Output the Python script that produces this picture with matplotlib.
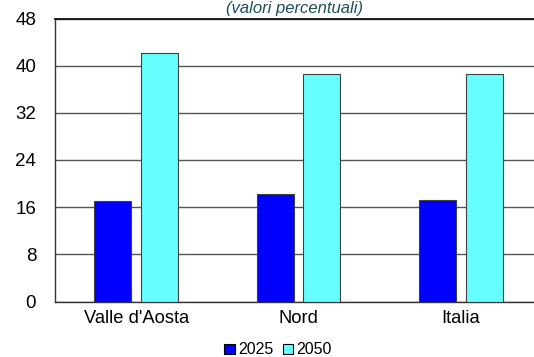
import numpy as np
import matplotlib
matplotlib.use("Agg")
import matplotlib.pyplot as plt

plt.rcParams['font.family'] = ['Liberation Sans', 'DejaVu Sans']

categories = ["Valle d'Aosta", "Nord", "Italia"]
anni = ["2025", "2050"]
v2025 = [17.0, 18.2, 17.2]
v2050 = [42.2, 38.6, 38.6]
yticks = [0, 8, 16, 24, 32, 40, 48]

fig = plt.figure(figsize=(5.34, 3.57), dpi=100)
ax = fig.add_axes([55/534, 1 - 301.5/357, 487/534, 283/357])

x = np.arange(len(categories))
w = 0.228
off = 0.143
ax.bar(x - off, v2025, w, color="#0000ff", edgecolor="#404040", linewidth=0.8,
       label=anni[0], zorder=3)
ax.bar(x + off, v2050, w, color="#66ffff", edgecolor="#404040", linewidth=0.8,
       label=anni[1], zorder=3)

ax.set_xlim(-0.5, 2.5)
ax.set_ylim(0, 48)
ax.set_yticks(yticks)
ax.set_xticks(x)
ax.set_xticklabels(categories)
ax.tick_params(axis='y', length=0, pad=13.5, labelsize=13.5)
ax.tick_params(axis='x', length=0, pad=6, labelsize=13.2)
ax.yaxis.grid(True, color="#555555", linewidth=1.0, zorder=0)
ax.set_axisbelow(True)
ax.spines['right'].set_visible(False)
ax.spines['top'].set_color("#111111")
ax.spines['top'].set_linewidth(1.3)
for s in ['left', 'bottom']:
    ax.spines[s].set_color("#333333")
    ax.spines[s].set_linewidth(1.0)

leg = fig.legend(loc='center', bbox_to_anchor=(278/534, 1 - 350/357), ncol=2,
                 frameon=False, fontsize=11.5, handlelength=0.65, handleheight=0.65,
                 handletextpad=0.2, columnspacing=0.6, borderpad=0)
for h in leg.legend_handles:
    h.set_edgecolor("#000000")

fig.text(295/534, 1 - 0.5/357, "(valori percentuali)", ha='center', va='top',
         style='italic', fontsize=12, color="#1b4f5c")

fig.savefig("out.png", dpi=100)
